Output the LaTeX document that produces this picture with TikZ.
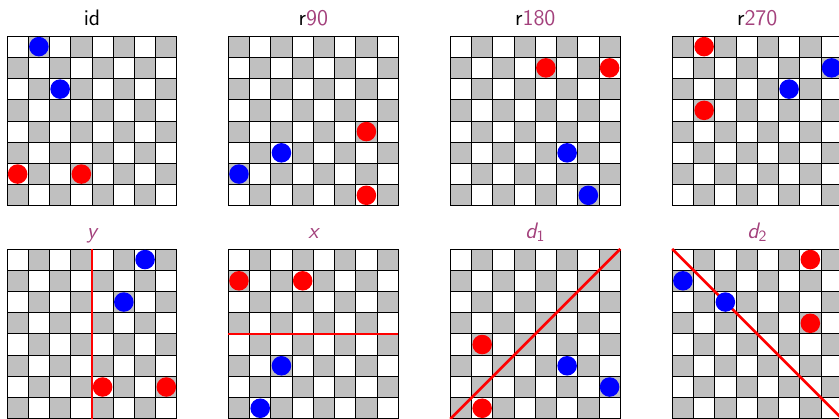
\documentclass[tikz,border=0pt]{standalone}
\usepackage{tikz}
\definecolor{boardgray}{RGB}{192,192,192}
\definecolor{plum}{RGB}{163,65,124}
\tikzstyle{darksq} = [fill=boardgray]
\tikzstyle{cellline} = [draw=black, line width=0.6pt, step=0.5cm]
\tikzstyle{caption} = [anchor=base, inner sep=0pt,
  font=\sffamily\fontsize{15}{18}\selectfont]
\tikzstyle{redpiece} = [fill=red]
\tikzstyle{bluepiece} = [fill=blue]
\tikzstyle{mirror} = [draw=red, line width=1.8pt]

\begin{document}
\begin{tikzpicture}[x=0.5cm, y=0.5cm]

\useasboundingbox (0,0) rectangle (39.5,-19.68);
\clip (0,0) rectangle (39.5,-19.68);

%% ---- BOARDS (left, top, parity of the dark squares) ----
\foreach \bx/\by/\p in {0.33/-1.695/1, 10.75/-1.695/0, 21.2/-1.695/1, 31.65/-1.695/0,
                        0.33/-11.72/1, 10.75/-11.72/1, 21.2/-11.72/1, 31.65/-11.72/1}{
  \begin{scope}[shift={(\bx,\by)}]
    \foreach \r in {0,...,7}{
      \foreach \c in {0,...,7}{
        \pgfmathtruncatemacro{\k}{mod(\r+\c+\p,2)}
        \ifnum\k=0 \fill[darksq] (\c,-\r) rectangle ++(1,-1); \fi
      }
    }
    \draw[cellline] (0,0) grid (8,-8);
  \end{scope}
}

%%=============================================================
%% TOP ROW: the rotations
%%=============================================================
\node (t_id)   [caption] at (4.33, -1.195)  {id};
\node (t_r90)  [caption] at (14.75, -1.195) {r\textcolor{plum}{90}};
\node (t_r180) [caption] at (25.2, -1.195)  {r\textcolor{plum}{180}};
\node (t_r270) [caption] at (35.65, -1.195) {r\textcolor{plum}{270}};

% id
\begin{scope}[shift={(0.33,-1.695)}]
  \fill[bluepiece] (1.5,-0.5) circle (0.46);
  \fill[bluepiece] (2.5,-2.5) circle (0.46);
  \fill[redpiece]  (0.5,-6.5) circle (0.46);
  \fill[redpiece]  (3.5,-6.5) circle (0.46);
\end{scope}

% r90
\begin{scope}[shift={(10.75,-1.695)}]
  \fill[redpiece]  (6.5,-4.5) circle (0.46);
  \fill[redpiece]  (6.5,-7.5) circle (0.46);
  \fill[bluepiece] (2.5,-5.5) circle (0.46);
  \fill[bluepiece] (0.5,-6.5) circle (0.46);
\end{scope}

% r180
\begin{scope}[shift={(21.2,-1.695)}]
  \fill[redpiece]  (4.5,-1.5) circle (0.46);
  \fill[redpiece]  (7.5,-1.5) circle (0.46);
  \fill[bluepiece] (5.5,-5.5) circle (0.46);
  \fill[bluepiece] (6.5,-7.5) circle (0.46);
\end{scope}

% r270
\begin{scope}[shift={(31.65,-1.695)}]
  \fill[redpiece]  (1.5,-0.5) circle (0.46);
  \fill[redpiece]  (1.5,-3.5) circle (0.46);
  \fill[bluepiece] (7.5,-1.5) circle (0.46);
  \fill[bluepiece] (5.5,-2.5) circle (0.46);
\end{scope}

%%=============================================================
%% BOTTOM ROW: the reflections
%%=============================================================
\node (t_y)  [caption] at (4.33, -11.22)  {\textcolor{plum}{\itshape y}};
\node (t_x)  [caption] at (14.75, -11.22) {\textcolor{plum}{\itshape x}};
\node (t_d1) [caption] at (25.2, -11.22)  {\textcolor{plum}{\itshape d\textsubscript{\upshape 1}}};
\node (t_d2) [caption] at (35.65, -11.22) {\textcolor{plum}{\itshape d\textsubscript{\upshape 2}}};

% y
\begin{scope}[shift={(0.33,-11.72)}]
  \draw[mirror] (4,0) -- (4,-8);
  \fill[bluepiece] (6.5,-0.5) circle (0.46);
  \fill[bluepiece] (5.5,-2.5) circle (0.46);
  \fill[redpiece]  (4.5,-6.5) circle (0.46);
  \fill[redpiece]  (7.5,-6.5) circle (0.46);
\end{scope}

% x
\begin{scope}[shift={(10.75,-11.72)}]
  \draw[mirror] (0,-4) -- (8,-4);
  \fill[redpiece]  (0.5,-1.5) circle (0.46);
  \fill[redpiece]  (3.5,-1.5) circle (0.46);
  \fill[bluepiece] (2.5,-5.5) circle (0.46);
  \fill[bluepiece] (1.5,-7.5) circle (0.46);
\end{scope}

% d1
\begin{scope}[shift={(21.2,-11.72)}]
  \draw[mirror] (0,-8) -- (8,0);
  \fill[redpiece]  (1.5,-4.5) circle (0.46);
  \fill[redpiece]  (1.5,-7.5) circle (0.46);
  \fill[bluepiece] (5.5,-5.5) circle (0.46);
  \fill[bluepiece] (7.5,-6.5) circle (0.46);
\end{scope}

% d2
\begin{scope}[shift={(31.65,-11.72)}]
  \draw[mirror] (0,0) -- (8,-8);
  \fill[redpiece]  (6.5,-0.5) circle (0.46);
  \fill[redpiece]  (6.5,-3.5) circle (0.46);
  \fill[bluepiece] (0.5,-1.5) circle (0.46);
  \fill[bluepiece] (2.5,-2.5) circle (0.46);
\end{scope}

\end{tikzpicture}
\end{document}
